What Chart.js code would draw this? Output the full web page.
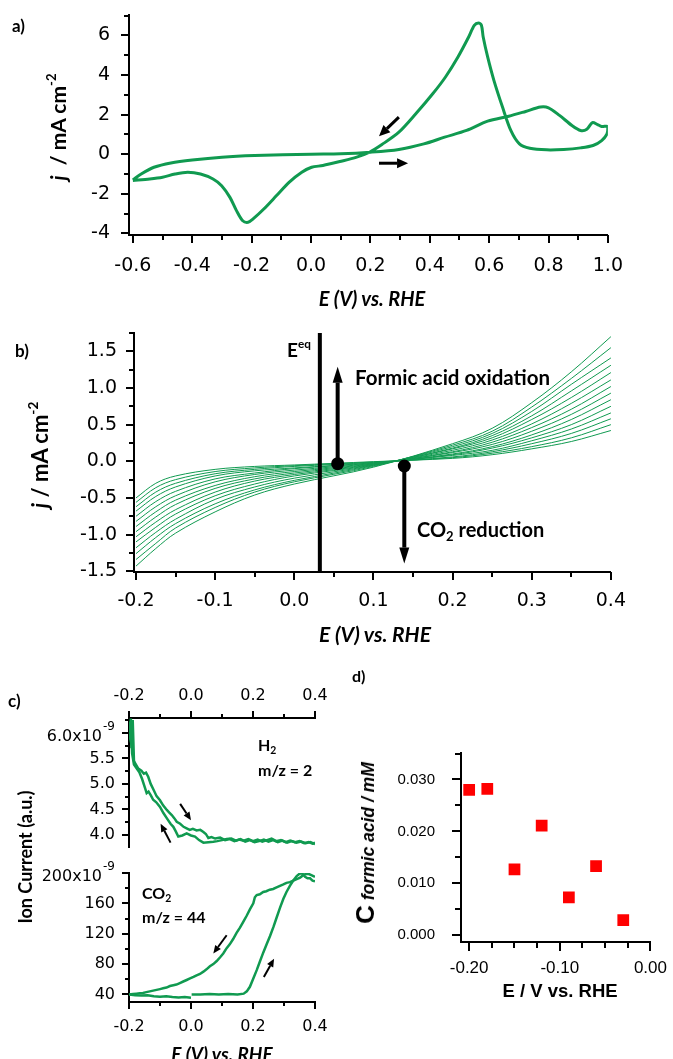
<!DOCTYPE html>
<html>
<head>
<meta charset="utf-8">
<script src="https://cdn.jsdelivr.net/npm/chart.js@4.4.0/dist/chart.umd.min.js"></script>
<style>
  body { margin: 0; background: #fff; }
  #fig { position: relative; width: 673px; height: 1059px; overflow: hidden; font-family: Lato, sans-serif; }
  canvas { position: absolute; }
  .t { position: absolute; white-space: nowrap; color: #000; font-weight: bold; line-height: 1; }
  .c { transform: translate(-50%, -50%); }
  .l { transform: translate(0, -50%); }
  .r90 { transform: translate(-50%, -50%) rotate(-90deg); }
  .t sup { font-size: 0.62em; vertical-align: 0.75em; line-height: 0; }
  .t sub { font-size: 0.65em; vertical-align: -0.3em; line-height: 0; }
</style>
</head>
<body>
<div id="fig">
  <canvas id="ca"></canvas>
  <canvas id="cb"></canvas>
  <canvas id="cc1"></canvas>
  <canvas id="cc2"></canvas>
  <canvas id="cd"></canvas>

  <div class="t" style="left:12px;top:17px;font-size:17px">a)</div>
  <div class="t r90" style="left:57px;top:127px;font-size:21px"><i>j</i>&nbsp; / mA cm<sup>-2</sup></div>
  <div class="t c" style="left:372px;top:298px;font-size:20px;font-style:italic">E (V) vs. RHE</div>

  <div class="t" style="left:15px;top:342px;font-size:17px">b)</div>
  <div class="t r90" style="left:40px;top:455px;font-size:22px"><i>j</i> / mA cm<sup>-2</sup></div>
  <div class="t c" style="left:375px;top:633px;font-size:21px;font-style:italic">E (V) vs. RHE</div>
  <div class="t l" style="left:287px;top:349px;font-size:19px">E<sup>eq</sup></div>
  <div class="t l" style="left:355px;top:377px;font-size:20.5px">Formic acid oxidation</div>
  <div class="t l" style="left:417px;top:529px;font-size:20px">CO<sub>2</sub> reduction</div>

  <div class="t" style="left:8px;top:692px;font-size:17px">c)</div>
  <div class="t r90" style="left:25px;top:857px;font-size:18px">Ion Current (a.u.)</div>
  <div class="t l" style="left:258px;top:745px;font-size:16px">H<sub>2</sub></div>
  <div class="t l" style="left:258px;top:770px;font-size:16px">m/z = 2</div>
  <div class="t l" style="left:142px;top:893px;font-size:16px">CO<sub>2</sub></div>
  <div class="t l" style="left:142px;top:917px;font-size:16px">m/z = 44</div>
  <div class="t c" style="left:222px;top:1053px;font-size:19px;font-style:italic">E (V) vs. RHE</div>

  <div class="t" style="left:352px;top:668px;font-size:16px">d)</div>
  <div class="t r90" style="left:365px;top:843px;font-size:17.5px;font-family:'Liberation Sans',Arial,sans-serif"><span style="font-size:26px">C</span> <i>formic acid / mM</i></div>
  <div class="t c" style="left:560px;top:991px;font-size:18.5px;font-family:'Liberation Sans',Arial,sans-serif">E / V vs. RHE</div>
</div>

<script>
// ---------- data ----------

// a) CV, forward scan then reverse scan (E in V vs RHE, j in mA cm-2)
const aE = [-0.600, -0.572, -0.529, -0.472, -0.400, -0.300, -0.190, 0.000, 0.100, 0.200, 0.296, 0.380, 0.450, 0.524, 0.595, 0.666, 0.723, 0.773, 0.800, 0.837, 0.879, 0.908, 0.929, 0.948, 0.965, 0.979, 1.000,
  0.997, 0.979, 0.950, 0.908, 0.851, 0.794, 0.737, 0.702, 0.673, 0.645, 0.616, 0.595, 0.580, 0.574, 0.564, 0.550, 0.531, 0.495, 0.453, 0.410, 0.353, 0.296, 0.239, 0.197, 0.154, 0.097, 0.040, 0.002, -0.031, -0.074, -0.116, -0.159, -0.195, -0.212, -0.230, -0.251, -0.273, -0.301, -0.330, -0.372, -0.415, -0.458, -0.500, -0.543, -0.600];
const aJ = [-1.30, -1.00, -0.66, -0.44, -0.29, -0.15, -0.07, 0.00, 0.02, 0.10, 0.24, 0.52, 0.86, 1.20, 1.67, 1.92, 2.16, 2.38, 2.34, 1.96, 1.45, 1.20, 1.26, 1.60, 1.50, 1.40, 1.40,
  1.03, 0.69, 0.44, 0.32, 0.24, 0.22, 0.30, 0.52, 1.20, 2.38, 3.73, 4.91, 5.92, 6.51, 6.63, 6.51, 5.92, 4.91, 3.90, 3.05, 2.04, 1.11, 0.49, 0.10, -0.15, -0.37, -0.57, -0.66, -0.91, -1.42, -2.09, -2.77, -3.27, -3.44, -3.36, -2.85, -2.18, -1.59, -1.25, -1.00, -0.91, -1.00, -1.16, -1.25, -1.33];

// b) repeated cycles, one row per cycle
const bE = [-0.2, -0.175, -0.15, -0.1, -0.05, 0, 0.1, 0.2, 0.25, 0.3, 0.35, 0.4];
const bCycles = [
  [-0.50, -0.30, -0.20, -0.11, -0.07, -0.05, -0.005, 0.04, 0.09, 0.17, 0.27, 0.42],
  [-0.56, -0.36, -0.25, -0.14, -0.09, -0.06, -0.01, 0.05, 0.11, 0.20, 0.32, 0.50],
  [-0.62, -0.42, -0.30, -0.17, -0.11, -0.07, -0.015, 0.06, 0.13, 0.24, 0.38, 0.58],
  [-0.68, -0.48, -0.35, -0.20, -0.13, -0.09, -0.02, 0.08, 0.15, 0.28, 0.44, 0.66],
  [-0.75, -0.55, -0.41, -0.24, -0.16, -0.10, -0.025, 0.09, 0.18, 0.32, 0.50, 0.75],
  [-0.82, -0.62, -0.47, -0.28, -0.18, -0.12, -0.03, 0.10, 0.20, 0.36, 0.57, 0.84],
  [-0.89, -0.69, -0.53, -0.33, -0.21, -0.14, -0.035, 0.12, 0.23, 0.41, 0.64, 0.93],
  [-0.96, -0.76, -0.59, -0.37, -0.24, -0.16, -0.04, 0.13, 0.26, 0.46, 0.71, 1.02],
  [-1.03, -0.83, -0.66, -0.42, -0.27, -0.18, -0.045, 0.15, 0.29, 0.51, 0.79, 1.11],
  [-1.10, -0.90, -0.72, -0.47, -0.31, -0.20, -0.05, 0.17, 0.32, 0.57, 0.87, 1.21],
  [-1.18, -0.97, -0.79, -0.52, -0.35, -0.23, -0.055, 0.18, 0.35, 0.62, 0.96, 1.31],
  [-1.26, -1.04, -0.85, -0.58, -0.39, -0.26, -0.06, 0.20, 0.38, 0.68, 1.05, 1.41],
  [-1.34, -1.12, -0.91, -0.63, -0.42, -0.28, -0.07, 0.22, 0.41, 0.74, 1.13, 1.55],
  [-1.43, -1.19, -0.98, -0.69, -0.46, -0.31, -0.08, 0.24, 0.45, 0.80, 1.22, 1.70]
];

// c) mass signals (x1e-9)
const h2FwdE = [-0.200, -0.196, -0.192, -0.188, -0.184, -0.178, -0.170, -0.160, -0.152, -0.145, -0.138, -0.130, -0.122, -0.111, -0.100, -0.090, -0.078, -0.070, -0.062, -0.054,
  -0.046, -0.035, -0.024, -0.014, -0.004, 0.006, 0.018, 0.030, 0.040, 0.048, 0.056, 0.066, 0.078, 0.094, 0.110, 0.125, 0.140, 0.155, 0.170, 0.185,
  0.200, 0.215, 0.230, 0.245, 0.260, 0.275, 0.290, 0.305, 0.320, 0.335, 0.350, 0.365, 0.380, 0.392, 0.400];
const h2Fwd = [6.02, 6.22, 5.70, 6.25, 5.45, 5.38, 5.30, 5.26, 5.20, 5.22, 5.14, 5.00, 4.90, 4.76, 4.68, 4.58, 4.49, 4.44, 4.39, 4.33,
  4.26, 4.22, 4.16, 4.13, 4.10, 4.12, 4.09, 4.10, 4.06, 4.02, 3.94, 3.96, 3.93, 3.95, 3.90, 3.92, 3.88, 3.91, 3.89, 3.92,
  3.88, 3.91, 3.87, 3.90, 3.93, 3.88, 3.90, 3.86, 3.89, 3.86, 3.88, 3.84, 3.86, 3.83, 3.85];
const h2RevE = [0.400, 0.385, 0.370, 0.355, 0.340, 0.325, 0.310, 0.295, 0.280, 0.265, 0.250, 0.235, 0.220, 0.205, 0.190, 0.175, 0.160, 0.145, 0.130, 0.115,
  0.100, 0.085, 0.072, 0.056, 0.040, 0.026, 0.013, 0.000, -0.014, -0.028, -0.041, -0.050, -0.057, -0.066, -0.075, -0.089, -0.100, -0.112, -0.122, -0.130,
  -0.137, -0.143, -0.150, -0.158, -0.166, -0.175, -0.184, -0.190, -0.194, -0.198, -0.200];
const h2Rev = [3.82, 3.86, 3.84, 3.87, 3.85, 3.88, 3.85, 3.89, 3.86, 3.90, 3.87, 3.91, 3.88, 3.86, 3.90, 3.87, 3.92, 3.89, 3.93, 3.92,
  3.90, 3.88, 3.87, 3.86, 3.85, 3.90, 3.97, 3.99, 4.03, 3.99, 3.97, 4.08, 4.16, 4.22, 4.30, 4.43, 4.55, 4.64, 4.69, 4.78,
  4.85, 4.82, 4.95, 5.10, 5.22, 5.30, 5.38, 5.60, 6.28, 5.95, 5.90];

const co2FwdE1 = [-0.200, -0.180, -0.160, -0.140, -0.120, -0.100, -0.080, -0.060, -0.040, -0.020, 0.000];
const co2Fwd1 = [40, 39, 38.5, 39, 37.5, 37, 37.5, 36.5, 36, 36.5, 35.5];
const co2FwdE2 = [0.002, 0.030, 0.060, 0.090, 0.120, 0.150, 0.170, 0.180, 0.190, 0.200, 0.212, 0.222, 0.233, 0.244, 0.255, 0.266, 0.276, 0.287, 0.298, 0.308,
  0.319, 0.330, 0.341, 0.350, 0.357, 0.362, 0.368, 0.376, 0.384, 0.392, 0.400];
const co2Fwd2 = [40, 40, 40.5, 40, 40.5, 40, 41, 44, 50, 60, 72, 83, 95, 106, 117, 129, 141, 154, 166, 175,
  183, 190, 196, 199, 200, 198, 195, 193, 193, 190, 189];
const co2RevE = [0.400, 0.390, 0.378, 0.365, 0.352, 0.341, 0.330, 0.319, 0.308, 0.298, 0.287, 0.276, 0.265, 0.254, 0.243, 0.233, 0.222, 0.212, 0.206, 0.201,
  0.190, 0.180, 0.169, 0.158, 0.147, 0.136, 0.125, 0.115, 0.104, 0.094, 0.083, 0.072, 0.061, 0.050, 0.040, 0.029, 0.018, 0.008, -0.003, -0.014,
  -0.025, -0.036, -0.047, -0.057, -0.068, -0.079, -0.090, -0.100, -0.111, -0.122, -0.133, -0.144, -0.155, -0.165, -0.176, -0.187, -0.200];
const co2Rev = [195, 197, 199, 198, 194, 192, 190, 188, 187, 185, 183, 181, 179, 178, 176, 175, 172, 171, 168, 160,
  152, 144, 136, 128, 121, 113, 106, 101, 94, 89, 84, 80, 77, 73, 70, 67, 65, 63, 61, 59,
  57, 55, 53, 52, 51, 49, 48, 47, 46, 45, 44, 43, 42, 41.5, 41, 40.5, 40];

// d) formic acid concentration
const dE = [-0.20, -0.18, -0.15, -0.12, -0.09, -0.06, -0.03];
const dC = [0.0280, 0.0282, 0.0127, 0.0211, 0.0073, 0.0133, 0.0029];

// ---------- helpers ----------
const GREEN = '#109a50';
const pts = (xs, ys) => xs.map((x, i) => ({ x: x, y: ys[i] }));
const fix = d => v => (Math.abs(v) < 1e-9 ? 0 : v).toFixed(d);
const range = (a, b, s) => { const r = []; for (let v = a; v <= b + s / 1000; v += s) r.push(+v.toFixed(4)); return r; };
const P = 30;

function line(data, w, tension) {
  return { data: data, showLine: true, borderColor: GREEN, borderWidth: w, pointRadius: 0, tension: tension || 0, fill: false };
}

function axis(min, max, step, fmt, font, pad, extra) {
  return Object.assign({
    type: 'linear', min: min, max: max,
    grid: { display: false, drawTicks: false },
    border: { display: true, color: '#000', width: 2 },
    ticks: { stepSize: step, includeBounds: false, autoSkip: false, maxRotation: 0, padding: pad, color: '#000', font: font, callback: fmt }
  }, extra || {});
}

function arrow(ctx, x1, y1, x2, y2, st) {
  const ang = Math.atan2(y2 - y1, x2 - x1);
  const bx = x2 - Math.cos(ang) * st.hl, by = y2 - Math.sin(ang) * st.hl;
  ctx.lineWidth = st.w;
  ctx.beginPath(); ctx.moveTo(x1, y1); ctx.lineTo(bx, by); ctx.stroke();
  ctx.beginPath(); ctx.moveTo(x2, y2);
  ctx.lineTo(bx + Math.sin(ang) * st.hw / 2, by - Math.cos(ang) * st.hw / 2);
  ctx.lineTo(bx - Math.sin(ang) * st.hw / 2, by + Math.cos(ang) * st.hw / 2);
  ctx.closePath(); ctx.fill();
}

// ticks (major + minor), arrows, markers and the x10^-9 labels
const deco = {
  id: 'deco',
  afterDraw(chart) {
    const o = chart.options.plugins.deco || {};
    const ctx = chart.ctx, a = chart.chartArea;
    const xs = chart.scales.x, ys = chart.scales.y;
    ctx.save();
    ctx.strokeStyle = '#000'; ctx.fillStyle = '#000'; ctx.lineCap = 'butt';
    ctx.lineWidth = 2;
    const len = o.tickLen || [8, 5];
    (o.ticks || []).forEach(t => {
      const sc = chart.scales[t.axis];
      [[t.major, len[0]], [t.minor, len[1]]].forEach(([vals, L]) => {
        (vals || []).forEach(v => {
          const p = Math.round(sc.getPixelForValue(v));
          ctx.beginPath();
          if (t.side === 'bottom') { ctx.moveTo(p, a.bottom); ctx.lineTo(p, a.bottom + L); }
          else if (t.side === 'top') { ctx.moveTo(p, a.top); ctx.lineTo(p, a.top - L); }
          else { ctx.moveTo(a.left, p); ctx.lineTo(a.left - L, p); }
          ctx.stroke();
        });
      });
    });
    (o.vlines || []).forEach(v => {
      ctx.lineWidth = v.w;
      const p = xs.getPixelForValue(v.x);
      ctx.beginPath(); ctx.moveTo(p, a.top); ctx.lineTo(p, a.bottom); ctx.stroke();
    });
    (o.arrows || []).forEach(ar => {
      arrow(ctx, xs.getPixelForValue(ar[0]), ys.getPixelForValue(ar[1]),
        xs.getPixelForValue(ar[2]), ys.getPixelForValue(ar[3]), o.arrowStyle);
    });
    (o.dots || []).forEach(d => {
      ctx.beginPath();
      ctx.arc(xs.getPixelForValue(d[0]), ys.getPixelForValue(d[1]), o.dotR, 0, Math.PI * 2);
      ctx.fill();
    });
    (o.supLabels || []).forEach(s => {
      const y = ys.getPixelForValue(s.value);
      const right = a.left - ys.options.ticks.padding;
      ctx.textBaseline = 'middle';
      ctx.font = s.supFont;
      const sw = ctx.measureText(s.sup).width;
      ctx.textAlign = 'left';
      ctx.fillText(s.sup, right - sw, y - 6);
      ctx.font = s.font;
      ctx.textAlign = 'right';
      ctx.fillText(s.main, right - sw - 1, y + 4);
    });
    ctx.restore();
  }
};

function makeChart(id, area, config) {
  const c = document.getElementById(id);
  const th = area.th || 0;
  const w = area.r - area.l + area.yw + 2 * P;
  const h = area.b - area.t + area.xh + th + 2 * P;
  c.width = w; c.height = h;
  c.style.width = w + 'px'; c.style.height = h + 'px';
  c.style.left = (area.l - area.yw - P) + 'px';
  c.style.top = (area.t - th - P) + 'px';
  const opt = config.options;
  opt.responsive = false;
  opt.devicePixelRatio = 1;
  opt.animation = false;
  opt.layout = { padding: P };
  opt.plugins = Object.assign({ legend: { display: false }, tooltip: { enabled: false } }, opt.plugins || {});
  const sx = opt.scales.x, sy = opt.scales.y;
  sx.afterFit = s => { s.height = sx.position === 'top' ? th : area.xh; };
  sy.afterFit = s => { s.width = area.yw; };
  config.plugins = [deco];
  return new Chart(c, config);
}

const dv = s => ({ family: 'DejaVu Sans', size: s });
const lib = s => ({ family: 'Liberation Sans', size: s });

// ---------- a) ----------
makeChart('ca', { l: 129, r: 613, t: 15, b: 235, yw: 100, xh: 50 }, {
  type: 'scatter',
  data: { datasets: [line(pts(aE, aJ), 3, 0.3)] },
  options: {
    scales: {
      x: axis(-0.613, 1.0, 0.2, fix(1), dv(19), 20),
      y: axis(-4.08, 7.01, 2, fix(0), dv(19), 19)
    },
    plugins: {
      deco: {
        ticks: [
          { axis: 'x', side: 'bottom', major: range(-0.6, 1.0, 0.2), minor: range(-0.5, 0.9, 0.2) },
          { axis: 'y', side: 'left', major: range(-4, 6, 2), minor: range(-3, 7, 2) }
        ],
        arrows: [[0.296, 1.87, 0.229, 0.91], [0.229, -0.455, 0.327, -0.455]],
        arrowStyle: { w: 3, hl: 11, hw: 10 }
      }
    }
  }
});

// ---------- b) ----------
makeChart('cb', { l: 134, r: 614, t: 333, b: 572, yw: 100, xh: 50 }, {
  type: 'scatter',
  data: { datasets: bCycles.map(c => line(pts(bE, c), 1, 0.35)) },
  options: {
    scales: {
      x: axis(-0.2025, 0.4, 0.1, fix(1), dv(19), 18),
      y: axis(-1.51, 1.75, 0.5, fix(1), dv(19), 17)
    },
    plugins: {
      deco: {
        ticks: [
          { axis: 'x', side: 'bottom', major: range(-0.2, 0.4, 0.1), minor: range(-0.15, 0.35, 0.1) },
          { axis: 'y', side: 'left', major: range(-1.5, 1.5, 0.5), minor: range(-1.25, 1.75, 0.5) }
        ],
        vlines: [{ x: 0.0323, w: 4 }],
        arrows: [[0.0548, -0.032, 0.0548, 1.29], [0.139, -0.064, 0.139, -1.395]],
        arrowStyle: { w: 4, hl: 16, hw: 10 },
        dots: [[0.0548, -0.032], [0.139, -0.064]],
        dotR: 6.5
      }
    }
  }
});

// ---------- c) top: H2 ----------
makeChart('cc1', { l: 129, r: 315, t: 718, b: 847, yw: 100, xh: 0, th: 40 }, {
  type: 'scatter',
  data: { datasets: [line(pts(h2FwdE, h2Fwd), 2.5), line(pts(h2RevE, h2Rev), 2.5)] },
  options: {
    scales: {
      x: axis(-0.2, 0.4, 0.2, fix(1), dv(16), 13, { position: 'top' }),
      y: axis(3.765, 6.29, 0.5, v => Math.abs(v - 6) < 1e-6 ? '' : fix(1)(v), dv(16), 14)
    },
    plugins: {
      deco: {
        ticks: [
          { axis: 'x', side: 'top', major: range(-0.2, 0.4, 0.2), minor: range(-0.1, 0.3, 0.2) },
          { axis: 'y', side: 'left', major: range(4, 6, 0.5), minor: range(4.25, 6.25, 0.5) }
        ],
        tickLen: [7, 4],
        arrows: [[-0.035, 4.61, 0.0, 4.29], [-0.066, 3.85, -0.098, 4.22]],
        arrowStyle: { w: 2, hl: 8, hw: 7 },
        supLabels: [{ value: 6, main: '6.0x10', sup: '-9', font: '16px "DejaVu Sans"', supFont: '12px "DejaVu Sans"' }]
      }
    }
  }
});

// ---------- c) bottom: CO2 ----------
makeChart('cc2', { l: 129, r: 315, t: 873, b: 1002, yw: 100, xh: 50 }, {
  type: 'scatter',
  data: {
    datasets: [line(pts(co2FwdE1, co2Fwd1), 2.5), line(pts(co2FwdE2, co2Fwd2), 2.5), line(pts(co2RevE, co2Rev), 2.5)]
  },
  options: {
    scales: {
      x: axis(-0.2, 0.4, 0.2, fix(1), dv(16), 15),
      y: axis(30, 200, 40, v => Math.abs(v - 200) < 1e-6 ? '' : fix(0)(v), dv(16), 14)
    },
    plugins: {
      deco: {
        ticks: [
          { axis: 'x', side: 'bottom', major: range(-0.2, 0.4, 0.2), minor: range(-0.1, 0.3, 0.2) },
          { axis: 'y', side: 'left', major: range(40, 200, 40), minor: range(60, 180, 40) }
        ],
        tickLen: [7, 4],
        arrows: [[0.115, 118, 0.072, 94], [0.235, 63, 0.268, 87]],
        arrowStyle: { w: 2, hl: 8, hw: 7 },
        supLabels: [{ value: 200, main: '200x10', sup: '-9', font: '16px "DejaVu Sans"', supFont: '12px "DejaVu Sans"' }]
      }
    }
  }
});

// ---------- d) ----------
makeChart('cd', { l: 461, r: 653, t: 748, b: 942, yw: 100, xh: 50 }, {
  type: 'scatter',
  data: {
    datasets: [{ data: pts(dE, dC), pointStyle: 'rect', pointRadius: 8.3, backgroundColor: '#ff0000', borderWidth: 0 }]
  },
  options: {
    scales: {
      x: axis(-0.209, 0.0, 0.1, fix(2), lib(17), 16),
      y: axis(-0.0013, 0.0351, 0.01, fix(3), lib(15), 26)
    },
    plugins: {
      deco: {
        ticks: [
          { axis: 'x', side: 'bottom', major: [-0.2, -0.1, 0.0], minor: [-0.175, -0.15, -0.125, -0.075, -0.05, -0.025] },
          { axis: 'y', side: 'left', major: [0, 0.01, 0.02, 0.03], minor: [0.005, 0.015, 0.025, 0.035] }
        ],
        tickLen: [9, 6]
      }
    }
  }
});
</script>
</body>
</html>
